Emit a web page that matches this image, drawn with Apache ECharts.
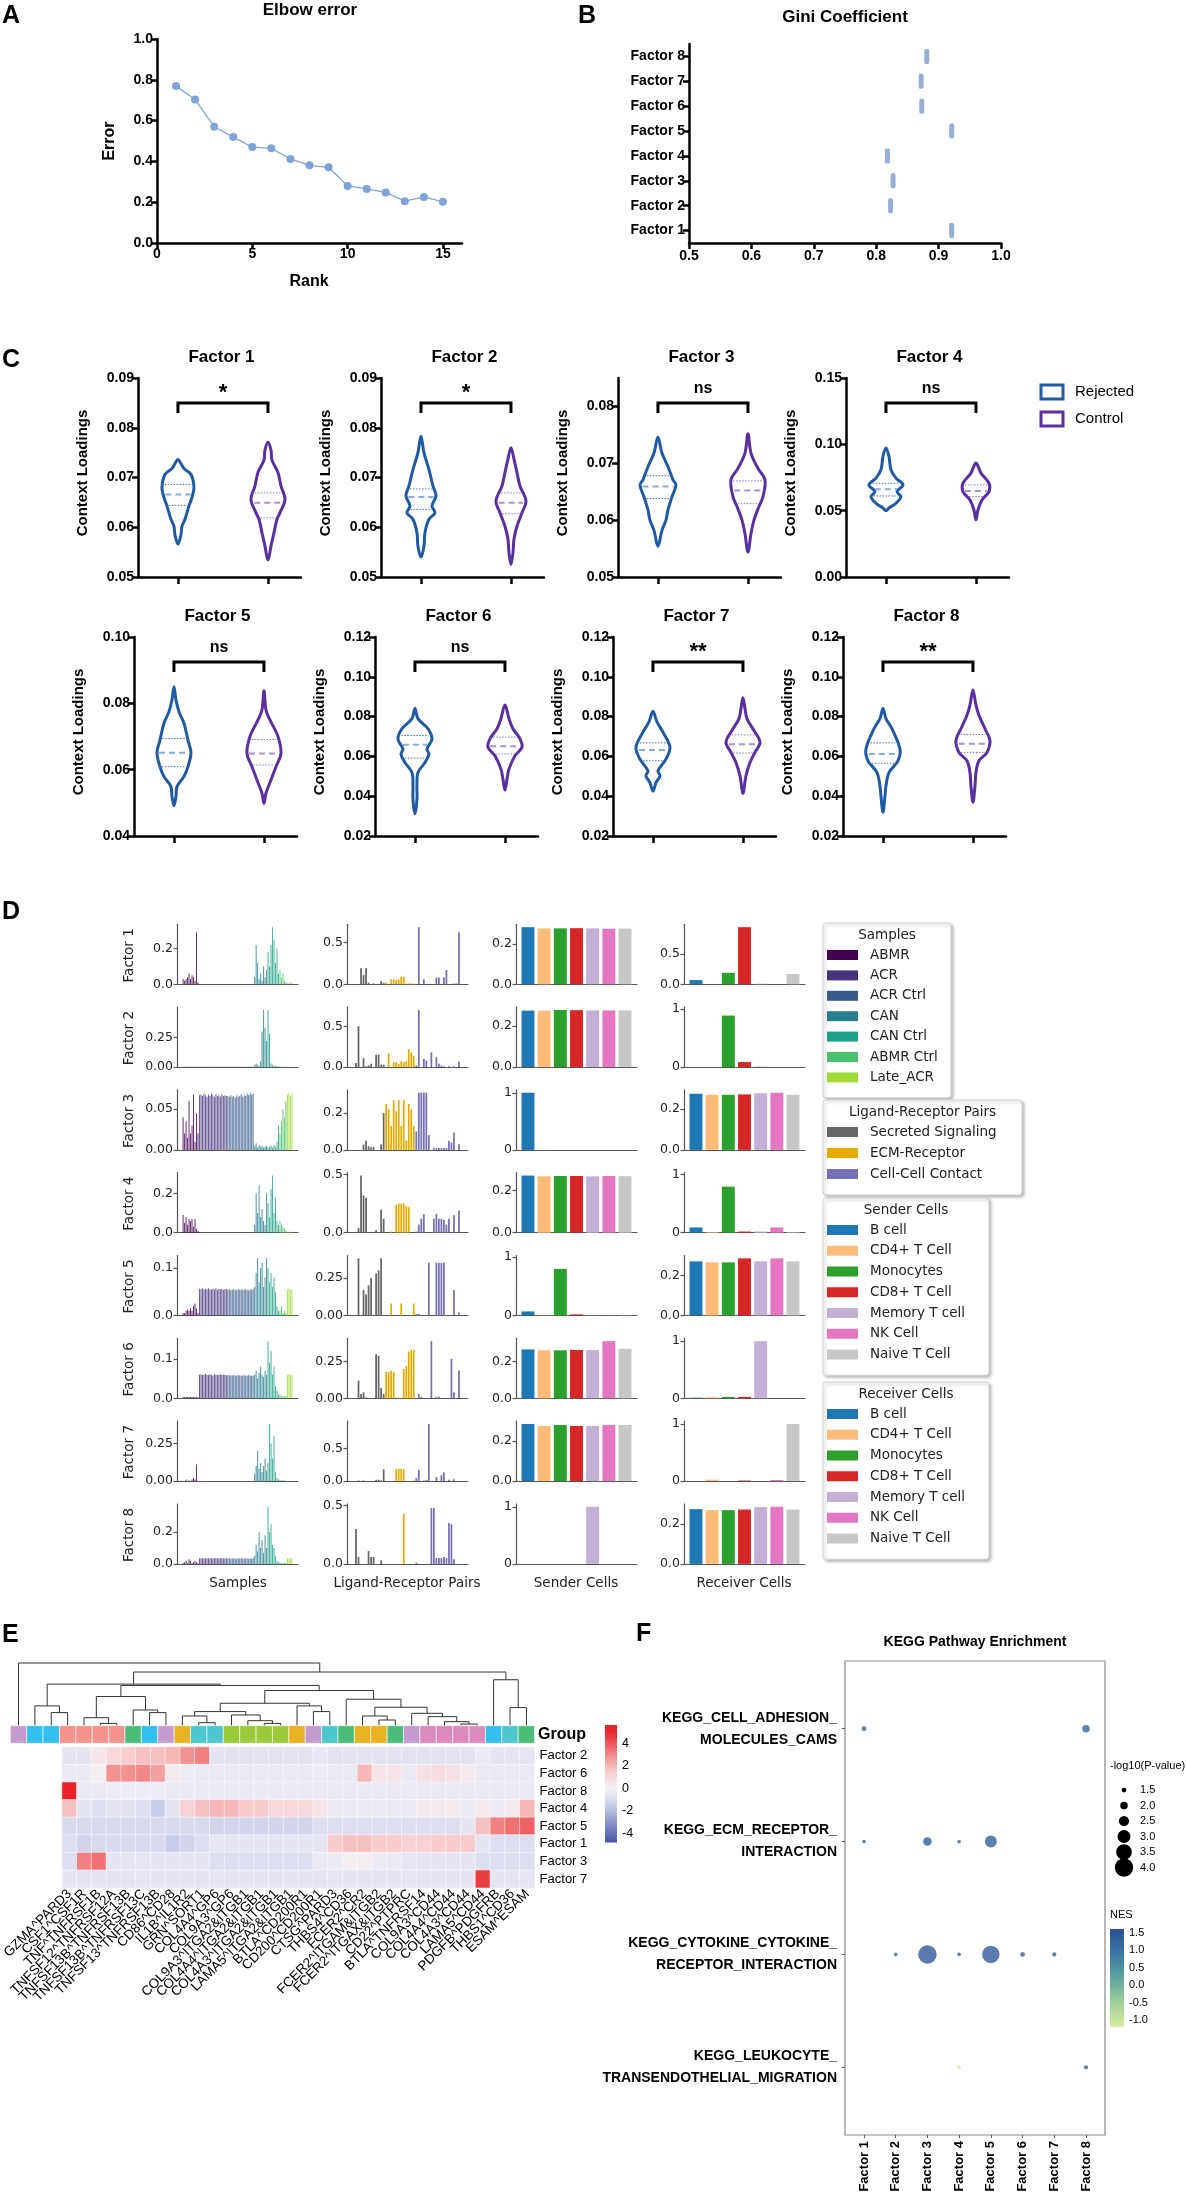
<!DOCTYPE html>
<html><head><meta charset="utf-8">
<script src="https://cdn.jsdelivr.net/npm/echarts@6.0.0/dist/echarts.min.js"></script>
<style>html,body{margin:0;padding:0;background:#fff}#c{width:1186px;height:2208px}</style>
</head><body><div id="c"></div>
<script>
// ================= DATA =================
const elbowRank = [1,2,3,4,5,6,7,8,9,10,11,12,13,14,15];
const elbowError = [0.769,0.703,0.570,0.519,0.470,0.464,0.412,0.381,0.371,0.280,0.265,0.248,0.205,0.226,0.202];
const factorNames = ['Factor 1','Factor 2','Factor 3','Factor 4','Factor 5','Factor 6','Factor 7','Factor 8'];
const giniValues = [0.921,0.823,0.827,0.818,0.921,0.873,0.872,0.881];
const groupNames = ['Rejected','Control'];
const sigLabels = ['*','*','ns','ns','ns','ns','**','**'];
const violinMin = [0.05,0.05,0.05,0,0.04,0.02,0.02,0.02];
const violinMax = [0.09,0.09,0.085,0.15,0.10,0.12,0.12,0.12];
const violinStep = [0.01,0.01,0.01,0.05,0.02,0.02,0.02,0.02];
const violinTop = [0.09,0.09,0.08,0.15,0.10,0.12,0.12,0.12];
const rejectedShape = [
 [[0.0736,0],[0.0728,3],[0.0718,6],[0.0706,13],[0.0680,16],[0.0660,14],[0.0643,11],[0.0616,7],[0.0602,4],[0.0585,3],[0.0566,0]],
 [[0.0783,0],[0.0750,3],[0.0716,8],[0.0683,12],[0.0663,15],[0.0643,11],[0.0629,14],[0.0616,8],[0.0589,4],[0.0562,3],[0.0540,0]],
 [[0.0746,0],[0.0718,4],[0.0694,10],[0.0671,15],[0.0662,18],[0.0641,14],[0.0618,10],[0.0600,8],[0.0582,4],[0.0554,0]],
 [[0.0972,0],[0.0909,3],[0.0808,5],[0.0745,10],[0.0694,17],[0.0644,11],[0.0606,15],[0.0556,10],[0.0520,3],[0.0500,0]],
 [[0.0850,0],[0.0810,2],[0.0775,5],[0.0740,10],[0.0689,14],[0.0651,17],[0.0609,14],[0.0579,10],[0.0549,3],[0.0519,2],[0.0491,0]],
 [[0.0841,0],[0.0790,3],[0.0739,13],[0.0688,17],[0.0637,12],[0.0612,14],[0.0569,10],[0.0519,3],[0.0451,2],[0.0383,2],[0.0312,0]],
 [[0.0827,0],[0.0773,4],[0.0722,10],[0.0646,17],[0.0586,13],[0.0527,5],[0.0502,7],[0.0468,3],[0.0425,0]],
 [[0.0841,0],[0.0790,3],[0.0739,9],[0.0637,17],[0.0578,15],[0.0519,6],[0.0451,3],[0.0400,2],[0.0319,0]]
];
const controlShape = [
 [[0.0771,0],[0.0755,3],[0.0735,4],[0.0710,10],[0.0683,13],[0.0656,17],[0.0629,12],[0.0616,9],[0.0589,6],[0.0562,3],[0.0534,0]],
 [[0.0760,0],[0.0737,3],[0.0710,6],[0.0683,9],[0.0653,15],[0.0629,11],[0.0602,6],[0.0576,3],[0.0549,2],[0.0525,0]],
 [[0.0752,0],[0.0718,3],[0.0691,10],[0.0671,17],[0.0641,15],[0.0624,11],[0.0600,6],[0.0576,3],[0.0544,0]],
 [[0.0859,0],[0.0783,5],[0.0707,13],[0.0644,13],[0.0581,6],[0.0505,2],[0.0430,0]],
 [[0.0838,0],[0.0780,2],[0.0750,6],[0.0700,14],[0.0649,17],[0.0609,12],[0.0569,7],[0.0529,2],[0.0498,0]],
 [[0.0858,0],[0.0790,4],[0.0739,8],[0.0688,15],[0.0646,17],[0.0603,10],[0.0536,4],[0.0485,2],[0.0431,0]],
 [[0.0895,0],[0.0841,2],[0.0790,4],[0.0730,11],[0.0671,17],[0.0620,12],[0.0569,7],[0.0502,3],[0.0414,0]],
 [[0.0934,0],[0.0858,3],[0.0807,6],[0.0739,12],[0.0680,17],[0.0620,14],[0.0578,6],[0.0519,3],[0.0451,2],[0.0369,0]]
];
const rejectedQuartiles = [[0.0644,0.0666,0.0686],[0.0636,0.0661,0.0677],[0.0638,0.0659,0.0678],[0.0611,0.0662,0.0707],[0.0609,0.0651,0.0694],[0.0592,0.0658,0.0705],[0.0578,0.0632,0.0668],[0.0566,0.0612,0.0668]];
const controlQuartiles = [[0.0619,0.0649,0.0669],[0.0627,0.0649,0.0669],[0.0629,0.0652,0.0669],[0.0606,0.0649,0.0694],[0.0614,0.0649,0.0691],[0.0612,0.0651,0.0697],[0.0617,0.0661,0.0708],[0.0620,0.0663,0.0710]];

const sampleGroups = ['ABMR','ACR','ACR Ctrl','CAN','CAN Ctrl','ABMR Ctrl','Late_ACR'];
const sampleGroupSizes = [11,19,18,9,8,5,4];
const sampleGroupColors = ['#440154','#46327e','#365c8d','#277f8e','#1fa187','#4ac16d','#a0da39'];
const sampleLoadings = [
 [0.03,0.02,0.03,0.04,0.06,0.03,0.05,0.04,0.02,0.29,0.01, 0,0,0,0,0,0,0,0,0,0,0,0,0,0,0,0,0,0,0, 0,0,0,0,0,0,0,0,0,0,0,0,0,0,0,0,0,0, 0.04,0.22,0.12,0.03,0.06,0.02,0.10,0.04,0.08, 0.18,0.10,0.22,0.32,0.25,0.12,0.20,0.06, 0.08,0.04,0.06,0.02,0.01, 0.01,0.01,0.01,0.01],
 [0.003,0.002,0.003,0.002,0.003,0.002,0.003,0.002,0.003,0.002,0.003, 0.002,0.002,0.002,0.002,0.002,0.002,0.002,0.002,0.002,0.002,0.002,0.002,0.002,0.002,0.002,0.002,0.002,0.002,0.002, 0.002,0.002,0.002,0.002,0.002,0.002,0.002,0.002,0.002,0.002,0.002,0.002,0.002,0.002,0.002,0.002,0.002,0.002, 0.02,0.03,0.02,0.01,0.05,0.30,0.48,0.33,0.22, 0.48,0.28,0.03,0.02,0.01,0.01,0.01,0.005, 0.003,0.002,0.002,0.002,0.002, 0.002,0.002,0.002,0.002],
 [0.040,0.020,0.035,0.015,0.060,0.020,0.030,0.068,0.010,0.045,0.020, 0.067,0.068,0.066,0.069,0.067,0.065,0.068,0.066,0.069,0.067,0.065,0.068,0.066,0.067,0.065,0.068,0.066,0.067,0.066, 0.066,0.065,0.067,0.065,0.066,0.064,0.067,0.065,0.066,0.068,0.065,0.067,0.066,0.069,0.067,0.070,0.068,0.069, 0.005,0.008,0.003,0.006,0.004,0.005,0.003,0.004,0.005, 0.003,0.004,0.005,0.003,0.006,0.004,0.010,0.030, 0.020,0.035,0.050,0.040,0.060, 0.068,0.070,0.066,0.069],
 [0.09,0.05,0.08,0.04,0.07,0.06,0.07,0.03,0.07,0.02,0.01, 0,0,0,0,0,0,0,0,0,0,0,0,0,0,0,0,0,0,0, 0,0,0,0,0,0,0,0,0,0,0,0,0,0,0,0,0,0, 0.04,0.20,0.10,0.24,0.08,0.12,0.06,0.04,0.20, 0.15,0.08,0.22,0.29,0.10,0.18,0.06,0.04, 0.06,0.04,0.03,0.02,0.01, 0.005,0.005,0.005,0.005],
 [0.005,0.005,0.010,0.012,0.010,0.015,0.010,0.020,0.025,0.015,0.005, 0.056,0.055,0.057,0.054,0.056,0.055,0.057,0.055,0.054,0.056,0.055,0.057,0.054,0.056,0.055,0.056,0.054,0.055,0.056, 0.054,0.055,0.053,0.054,0.055,0.054,0.053,0.055,0.054,0.055,0.053,0.054,0.055,0.054,0.053,0.055,0.054,0.055, 0.06,0.09,0.12,0.07,0.10,0.11,0.06,0.08,0.12, 0.10,0.07,0.09,0.06,0.08,0.05,0.02,0.01, 0.01,0.02,0.005,0.01,0.005, 0.055,0.056,0.054,0.055],
 [0.003,0.003,0.003,0.003,0.003,0.003,0.003,0.003,0.003,0.003,0.003, 0.060,0.061,0.059,0.060,0.062,0.060,0.059,0.061,0.060,0.058,0.061,0.060,0.059,0.060,0.061,0.059,0.060,0.060,0.059, 0.058,0.059,0.057,0.058,0.059,0.058,0.057,0.059,0.058,0.057,0.058,0.059,0.057,0.058,0.059,0.058,0.057,0.058, 0.06,0.07,0.05,0.065,0.08,0.06,0.055,0.07,0.06, 0.145,0.09,0.12,0.06,0.08,0.03,0.02,0.01, 0.01,0.005,0.005,0.005,0.005, 0.060,0.061,0.059,0.060],
 [0,0,0.01,0,0.005,0,0.01,0.02,0.01,0.11,0, 0,0,0,0,0,0,0,0,0,0,0,0,0,0,0,0,0,0,0, 0,0,0,0,0,0,0,0,0,0,0,0,0,0,0,0,0,0, 0.05,0.10,0.20,0.08,0.12,0.06,0.10,0.15,0.07, 0.12,0.38,0.25,0.15,0.30,0.06,0.02,0.01, 0.01,0.005,0.005,0.005,0, 0,0,0,0],
 [0.005,0.010,0.020,0.005,0.030,0.020,0.005,0.010,0.020,0.010,0.005, 0.035,0.036,0.034,0.035,0.036,0.035,0.034,0.036,0.035,0.034,0.035,0.036,0.035,0.034,0.035,0.036,0.035,0.034,0.035, 0.034,0.035,0.033,0.034,0.035,0.034,0.033,0.035,0.034,0.035,0.033,0.034,0.035,0.034,0.033,0.035,0.034,0.035, 0.05,0.12,0.08,0.20,0.10,0.15,0.07,0.18,0.10, 0.36,0.20,0.25,0.12,0.10,0.05,0.02,0.01, 0.01,0.005,0.005,0.005,0.005, 0.035,0.036,0.034,0.035]
];
const sampleTicks = [['0.0','0.2'],['0.00','0.25'],['0.00','0.05'],['0.0','0.2'],['0.0','0.1'],['0.0','0.1'],['0.00','0.25'],['0.0','0.2']];
const lrCategories = ['Secreted Signaling','ECM-Receptor','Cell-Cell Contact'];
const lrCategorySizes = [13,12,19];
const lrCategoryColors = ['#666666','#e6ab02','#7570b3'];
const lrLoadings = [
 [0,0,0,0.19,0.11,0.19,0.02,0,0.01,0,0,0.04,0.02, 0.02,0,0.06,0.06,0.05,0.06,0.09,0.09,0.01,0.01,0.01,0.01, 0,0.68,0,0.06,0,0,0,0,0.08,0.08,0,0.08,0.17,0,0,0.01,0.01,0.62,0],
 [0,0.05,0.5,0,0.11,0.01,0.02,0.04,0,0.15,0.15,0.03,0.03, 0,0.17,0,0.06,0.06,0.04,0.07,0.06,0.07,0.22,0.18,0.14, 0.02,0.7,0,0.1,0.08,0,0.18,0,0.12,0.04,0.02,0.01,0,0.01,0,0.01,0,0.07,0],
 [0,0,0,0,0.03,0.05,0.02,0.015,0.015,0,0,0.03,0.2, 0.25,0.22,0.13,0.27,0.21,0.27,0.13,0.27,0.05,0.25,0.22,0.13, 0.1,0.31,0.31,0.31,0.31,0.08,0,0.01,0.01,0.01,0.01,0.01,0.01,0.05,0.04,0.095,0,0.03,0],
 [0,0,0.04,0.49,0.32,0.3,0,0,0,0.02,0,0.2,0.12, 0,0,0.01,0,0.24,0.25,0.25,0.25,0.23,0.22,0,0, 0.01,0.07,0.12,0.16,0,0,0,0.12,0.16,0.12,0.12,0.11,0.07,0.12,0,0.15,0,0.19,0],
 [0,0,0.38,0,0.17,0.14,0.2,0.25,0,0.28,0.3,0.38,0, 0,0,0.08,0,0,0,0.08,0,0,0,0,0.08, 0.01,0.01,0,0,0,0.35,0,0,0.35,0.35,0.35,0.35,0,0,0,0.17,0,0.02,0],
 [0,0,0.12,0.03,0.04,0.005,0,0,0,0.3,0.29,0.07,0.03, 0.18,0.18,0.19,0.18,0,0.005,0,0.2,0.22,0.32,0.33,0.33, 0,0.03,0.01,0,0,0,0.39,0,0.01,0.01,0,0,0,0,0.27,0.04,0,0.19,0],
 [0,0,0.01,0,0.01,0,0,0,0,0.02,0.02,0.01,0.18, 0,0,0,0,0.18,0.19,0.19,0.18,0,0,0,0.01, 0.05,0.17,0,0.01,0.02,0.87,0,0,0.06,0,0.09,0.13,0,0.02,0,0.03,0,0,0],
 [0,0.3,0.06,0,0,0,0.11,0.06,0.06,0,0,0.03,0, 0,0,0,0,0,0,0,0.43,0,0,0,0, 0.01,0,0,0,0,0,0.48,0.48,0.05,0.05,0.05,0.06,0.05,0.35,0.34,0.04,0,0,0]
];
const lrTicks = [['0.0','0.5'],['0.0','0.5'],['0.0','0.2'],['0.0','0.5'],['0.00','0.25'],['0.00','0.25'],['0.0','0.5'],['0.0','0.5']];
const cellTypes = ['B cell','CD4+ T Cell','Monocytes','CD8+ T Cell','Memory T cell','NK Cell','Naive T Cell'];
const cellColors = ['#1f77b4','#ffbb78','#2ca02c','#d62728','#c5b0d5','#e377c2','#c7c7c7'];
const senderLoadings = [
 [0.285,0.278,0.279,0.280,0.279,0.277,0.278],
 [0.275,0.275,0.278,0.277,0.276,0.276,0.276],
 [1,0,0,0,0,0,0],
 [0.272,0.268,0.270,0.270,0.268,0.270,0.269],
 [0.07,0.005,0.80,0.02,0.005,0.005,0.005],
 [0.267,0.262,0.262,0.264,0.263,0.312,0.270],
 [0.285,0.275,0.280,0.275,0.275,0.280,0.280],
 [0,0,0,0,1,0,0]
];
const senderTicks = [['0.0','0.2'],['0.0','0.2'],['0','1'],['0.0','0.2'],['0','1'],['0.0','0.2'],['0.0','0.2'],['0','1']];
const receiverLoadings = [
 [0.07,0,0.19,0.944,0.01,0,0.17],
 [0,0,0.885,0.086,0.01,0,0],
 [0.275,0.270,0.270,0.272,0.278,0.280,0.270],
 [0.09,0.01,0.79,0.02,0.02,0.09,0.01],
 [0.270,0.265,0.265,0.285,0.270,0.285,0.270],
 [0.01,0.02,0.025,0.025,1,0,0],
 [0,0.025,0,0.01,0,0.02,1],
 [0.275,0.270,0.270,0.273,0.285,0.287,0.273]
];
const receiverTicks = [['0.0','0.5'],['0','1'],['0.0','0.2'],['0','1'],['0.0','0.2'],['0','1'],['0','1'],['0.0','0.2']];

const hmColumns = ['GZMA^PARD3','CSF1^CSF1R','TNF^TNFRSF1B','TNFSF12^TNFRSF12A','TNFSF13B^TNFRSF13B','TNFSF13B^TNFRSF13C','TNFSF13^TNFRSF13B','CD86^CD28','IL1B^IL1R2','GRN^SORT1','COL4A4^GP6','COL9A3^GP6','COL9A3^ITGA2&ITGB1','COL4A4^ITGA2&ITGB1','COL4A3^ITGA2&ITGB1','LAMA5^ITGA2&ITGB1','BTLA^CD200R1','CD200^CD200R1','CTSG^PARD3','THBS4^CD36','FCER2^CR2','FCER2^ITGAM&ITGB2','FCER2^ITGAX&ITGB2','CD22^PTPRC','BTLA^TNFRSF14','COL9A3^CD44','COL4A4^CD44','COL4A3^CD44','LAMA5^CD44','PDGFB^PDGFRB','THBS1^CD36','ESAM^ESAM'];
const hmGroupIds = [0,1,1,2,2,2,2,3,1,0,4,5,5,6,6,6,6,4,0,5,3,4,4,3,0,7,7,7,7,1,5,3];
const hmGroupColors = ['#c49bd0','#35bff0','#f4928c','#4cbc78','#e9b224','#4fc6cd','#9ac93c','#dc89be'];
const hmRows = ['Factor 2','Factor 6','Factor 8','Factor 4','Factor 5','Factor 1','Factor 3','Factor 7'];
const hmFactor2 = [-0.5,-0.5,0.5,1.0,1.4,1.8,1.8,2.0,2.8,3.2,-0.6,-0.6,-0.6,-0.6,-0.6,-0.6,-0.6,-0.4,-0.6,-0.6,-0.6,-0.6,-0.6,-0.6,-0.6,-0.6,-0.6,-0.6,-0.3,-0.5,-0.5,-0.5];
const hmFactor6 = [-0.3,-0.3,0.2,2.8,2.8,3.0,2.5,0.3,-0.2,-0.3,-0.3,-0.3,-0.3,-0.3,-0.3,-0.3,-0.3,-0.2,-0.3,-0.3,2.0,0.5,0.5,-0.3,0.6,0.8,0.6,0.3,-0.3,-0.3,-0.3,-0.3];
const hmFactor8 = [5.0,-0.3,-0.3,-0.2,-0.2,-0.2,-0.2,-0.3,-0.3,-0.3,-0.3,-0.3,-0.3,-0.3,-0.3,-0.3,-0.3,-0.3,-0.3,-0.3,-0.3,-0.3,-0.3,-0.3,-0.3,-0.3,-0.3,-0.3,-0.3,-0.3,-0.3,-0.3];
const hmFactor4 = [1.8,-0.6,-0.8,-0.6,-0.6,-0.8,-1.5,-0.6,1.2,1.8,2.0,2.0,1.5,1.5,1.0,1.0,1.0,0.5,-0.3,-0.3,-0.3,-0.3,-0.3,-0.3,0.3,0.3,0.3,-0.3,0.3,-0.3,0.3,2.0];
const hmFactor5 = [-1.0,-1.0,-1.0,-1.0,-1.0,-1.0,-1.0,-1.0,-1.0,-1.0,-1.2,-1.2,-1.2,-1.2,-1.2,-1.2,-1.2,-0.8,-0.8,-0.8,-0.8,-0.8,-0.8,-0.8,-0.8,-0.8,-0.8,-0.5,1.8,3.2,3.5,3.8];
const hmFactor1 = [-0.8,-1.2,-1.0,-1.0,-1.0,-1.0,-1.0,-1.5,-1.2,-0.8,-0.5,-0.5,-0.5,-0.5,-0.5,-0.5,-0.5,-0.5,1.5,1.8,1.8,1.5,1.5,1.2,1.2,1.5,1.5,1.5,-0.5,-0.8,-0.8,-0.8];
const hmFactor3 = [-0.8,3.2,3.5,-0.5,-0.5,-0.5,-0.5,-0.5,-0.5,-0.5,-0.8,-0.8,-0.8,-0.8,-0.8,-0.8,-0.8,-0.3,-0.3,0.2,0.2,-0.3,-0.3,-0.5,-0.5,-0.5,-0.5,-0.5,-0.8,-0.8,-0.8,-0.8];
const hmFactor7 = [-0.5,-0.5,-0.5,-0.5,-0.5,-0.5,-0.5,-0.5,-0.5,-0.5,-0.5,-0.5,-0.5,-0.5,-0.5,-0.5,-0.5,-0.5,-0.5,-0.5,-0.5,-0.5,-0.5,-0.5,-0.5,-0.5,-0.5,-0.5,4.5,-0.5,-0.5,-0.5];
const dendroMerges = [
 [2,3,2.09],[1,32,3.16],[5,6,0.37],[4,34,1.28],[8,9,2.09],[7,36,2.51],[35,37,4.65],
 [11,12,0.48],[10,39,1.55],[15,16,0.37],[14,41,0.80],[13,42,1.71],[40,43,2.25],
 [18,19,2.25],[17,45,3.16],[44,46,3.58],
 [22,23,0.91],[21,48,1.55],[27,28,0.27],[26,50,0.64],[25,51,1.44],[24,52,1.98],[49,53,2.94],[20,54,4.22],
 [47,55,5.61],[38,56,6.42],[33,57,6.63],[30,31,2.89],[29,59,7.33],[58,60,8.56],[0,61,10]
];
const hmLegendTicks = [4,2,0,-2,-4];
const hmLegendRange = [5.6,-4.8];
const keggPathways = ['KEGG_CELL_ADHESION_\nMOLECULES_CAMS','KEGG_ECM_RECEPTOR_\nINTERACTION','KEGG_CYTOKINE_CYTOKINE_\nRECEPTOR_INTERACTION','KEGG_LEUKOCYTE_\nTRANSENDOTHELIAL_MIGRATION'];
const keggPoints = [
 [1,1,1.5,1.3],[8,1,2.0,1.2],
 [1,2,1.3,1.3],[3,2,2.2,1.3],[4,2,1.3,1.2],[5,2,2.8,1.3],
 [2,3,1.3,1.2],[3,3,4.0,1.4],[4,3,1.3,1.3],[5,3,3.8,1.4],[6,3,1.5,1.2],[7,3,1.4,1.2],
 [4,4,1.3,-1.2],[8,4,1.4,1.2]
];
const keggSizeLegend = [1.5,2.0,2.5,3.0,3.5,4.0];
const keggNesTicks = [1.5,1.0,0.5,0.0,-0.5,-1.0];

// ================= BUILD =================
const GP = '"Liberation Sans", Arial, Helvetica, sans-serif';
const MPL = '"DejaVu Sans", "Liberation Sans", sans-serif';
const NARROW = '"Liberation Sans Narrow", "Liberation Sans", Arial, sans-serif';
const grids=[], xAxes=[], yAxes=[], series=[], graphics=[], visualMaps=[];
function addGrid(g){ grids.push(Object.assign({containLabel:false, show:false}, g)); return grids.length-1; }
function addX(a){ xAxes.push(a); return xAxes.length-1; }
function addY(a){ yAxes.push(a); return yAxes.length-1; }
function T(text,x,y,o){ o=o||{}; const al=o.align||'center', va=o.va||'middle';
 graphics.push({type:'text', x:x, y:y, rotation:o.rot||0, silent:true, z:50,
  style:{text:text, fill:o.color||'#000', font:(o.weight||'normal')+' '+(o.size||14)+'px '+(o.family||GP), align:al, textAlign:al, verticalAlign:va, textVerticalAlign:va, lineHeight:o.lh}}); }
function R(x,y,w,h,style,z){ graphics.push({type:'rect', silent:true, z:z||40, shape:{x:x,y:y,width:w,height:h,r:style.r||0}, style:style}); }
const BLK = {color:'#000', width:2.5};
function gpAxisCommon(){ return {axisLine:{show:true,onZero:false,lineStyle:BLK}, splitLine:{show:false}}; }

// ---- Panel A ----
T('A', 2, 16, {weight:'bold', size:25, align:'left'});
T('Elbow error', 310, 10, {weight:'bold', size:17});
{
 const g = addGrid({left:157, top:39, width:305, height:204});
 const xi = addX(Object.assign(gpAxisCommon(), {gridIndex:g, type:'value', min:0, max:16,
   axisTick:{show:true, length:6, lineStyle:BLK, customValues:[0,5,10,15]},
   axisLabel:{customValues:[0,5,10,15], color:'#000', fontFamily:GP, fontWeight:'bold', fontSize:14, margin:4}}));
 const yi = addY(Object.assign(gpAxisCommon(), {gridIndex:g, type:'value', min:0, max:1, interval:0.2,
   axisTick:{show:true, length:6, lineStyle:BLK},
   axisLabel:{color:'#000', fontFamily:GP, fontWeight:'bold', fontSize:14, margin:4, formatter:v=>v.toFixed(1)}}));
 series.push({type:'line', xAxisIndex:xi, yAxisIndex:yi, data:elbowRank.map((r,i)=>[r,elbowError[i]]),
   symbol:'circle', symbolSize:8, itemStyle:{color:'#7ea3d9'}, lineStyle:{color:'#7ea3d9', width:1.3}, silent:true});
 T('Error', 110, 141, {weight:'bold', size:16, rot:Math.PI/2});
 T('Rank', 309, 282, {weight:'bold', size:16});
}
// ---- Panel B ----
T('B', 578, 16, {weight:'bold', size:25, align:'left'});
T('Gini Coefficient', 845, 17, {weight:'bold', size:17});
{
 const g = addGrid({left:689, top:44, width:312, height:199});
 const xi = addX(Object.assign(gpAxisCommon(), {gridIndex:g, type:'value', min:0.5, max:1.0, interval:0.1,
   axisTick:{show:true, length:6, lineStyle:BLK},
   axisLabel:{color:'#000', fontFamily:GP, fontWeight:'bold', fontSize:14, margin:6, formatter:v=>v.toFixed(1)}}));
 const yi = addY(Object.assign(gpAxisCommon(), {gridIndex:g, type:'category', data:factorNames,
   axisTick:{show:true, length:6, lineStyle:BLK, alignWithLabel:true},
   axisLabel:{color:'#000', fontFamily:GP, fontWeight:'bold', fontSize:14, margin:4}}));
 series.push({type:'scatter', xAxisIndex:xi, yAxisIndex:yi, data:giniValues.map((v,i)=>[v,factorNames[i]]),
   symbol:'roundRect', symbolSize:[5,15], itemStyle:{color:'#7b9bcd'}, silent:true});
}
// ---- Panel C ----
T('C', 2, 360, {weight:'bold', size:25, align:'left'});
const REJ='#1f5aa3', CTL='#5a2fa0';
const REJ_MED='#86aae2', CTL_MED='#ab8fda', REJ_Q='#3d6fc4', CTL_Q='#8b72cc';
function widthAt(shape, v){
 for(let i=0;i<shape.length-1;i++){ const a=shape[i], b=shape[i+1];
  if(v<=a[0] && v>=b[0]){ const t=(a[0]-v)/(a[0]-b[0]); return a[1]+(b[1]-a[1])*t; } }
 return 0;
}
const cLefts = [[138,381,618,846],[134,375,613,843]];
const cTops = [378,637];
for(let f=0; f<8; f++){
 const r = Math.floor(f/4), c = f%4;
 const left = cLefts[r][c], top = cTops[r], W = 163, Hh = 199;
 const g = addGrid({left:left, top:top, width:W, height:Hh});
 const xi = addX(Object.assign(gpAxisCommon(), {gridIndex:g, type:'value', min:-0.444, max:1.367,
   axisTick:{show:true, length:7, lineStyle:BLK, customValues:[0,1]}, axisLabel:{show:false}}));
 const ticks=[]; for(let v=violinMin[f]; v<=violinTop[f]+1e-9; v+=violinStep[f]) ticks.push(+v.toFixed(3));
 const yi = addY(Object.assign(gpAxisCommon(), {gridIndex:g, type:'value', min:violinMin[f], max:violinMax[f],
   axisTick:{show:true, length:6, lineStyle:BLK, customValues:ticks},
   axisLabel:{customValues:ticks, color:'#000', fontFamily:GP, fontWeight:'bold', fontSize:14, margin:4, formatter:v=>v.toFixed(2)}}));
 [0,1].forEach(gi=>{
  const shape = gi===0 ? rejectedShape[f] : controlShape[f];
  const q = gi===0 ? rejectedQuartiles[f] : controlQuartiles[f];
  const stroke = gi===0?REJ:CTL, med = gi===0?REJ_MED:CTL_MED, qc = gi===0?REJ_Q:CTL_Q;
  series.push({type:'custom', name:groupNames[gi], xAxisIndex:xi, yAxisIndex:yi, clip:false, silent:true,
   data:[[gi, q[1]]],
   renderItem:function(params, api){
    const cx = api.coord([gi, violinMin[f]])[0];
    const pts=[];
    shape.forEach(p=>{ pts.push([cx - p[1], api.coord([gi,p[0]])[1]]); });
    for(let i=shape.length-2;i>=1;i--){ const p=shape[i]; pts.push([cx + p[1], api.coord([gi,p[0]])[1]]); }
    const kids=[{type:'polygon', shape:{points:pts, smooth:0.35}, style:{fill:'#fff', stroke:stroke, lineWidth:3}}];
    q.forEach((v,k)=>{ const w=widthAt(shape,v)-2; const y=api.coord([gi,v])[1];
      kids.push({type:'line', shape:{x1:cx-w, y1:y, x2:cx+w, y2:y}, style:{stroke: k===1?med:qc, lineWidth: k===1?2:1, lineDash: k===1?[6,4]:[1.5,1.5]}}); });
    return {type:'group', children:kids};
   }});
 });
 series.push({type:'custom', xAxisIndex:xi, yAxisIndex:yi, clip:false, silent:true, data:[[0,1]],
  renderItem:function(params, api){
   const cs = params.coordSys; const x0 = api.coord([0,violinMin[f]])[0], x1 = api.coord([1,violinMin[f]])[0];
   const yb = cs.y + 25;
   return {type:'group', children:[
    {type:'polyline', shape:{points:[[x0,yb+10],[x0,yb],[x1,yb],[x1,yb+10]]}, style:{stroke:'#000', lineWidth:3, fill:null}},
    {type:'text', x:(x0+x1)/2, y: sigLabels[f]==='ns'? yb-14 : yb-10, style:{text:sigLabels[f], fill:'#000', font:'bold '+(sigLabels[f]==='ns'?16:22)+'px '+GP, align:'center', verticalAlign:'middle'}}
   ]};
  }});
 T(factorNames[f], left + W/2 + 2, top - 21, {weight:'bold', size:17});
 T('Context Loadings', left - 55, top + 95, {weight:'bold', size:15, rot:Math.PI/2});
}
R(1041, 385, 22, 14, {fill:'#fff', stroke:REJ, lineWidth:3});
R(1041, 412, 22, 14, {fill:'#fff', stroke:CTL, lineWidth:3});
T('Rejected', 1075, 392, {size:15, align:'left'});
T('Control', 1075, 419, {size:15, align:'left'});

// ---- Panel D ----
T('D', 2, 912, {weight:'bold', size:25, align:'left'});
const dLefts = [177,347,516,684], dW = 121, dH = 60, dBase0 = 984.3, dStep = 82.8;
const sampleColorOf = []; sampleGroupSizes.forEach((n,gi)=>{ for(let k=0;k<n;k++) sampleColorOf.push(gi); });
const lrColorOf = []; lrCategorySizes.forEach((n,gi)=>{ for(let k=0;k<n;k++) lrColorOf.push(gi); });
const mplAxis = {color:'#555', width:1.2};
function dPanel(left, top, vals, tickLabels, colorFn, opacity, widthFrac){
 const n = vals.length;
 const g = addGrid({left:left, top:top, width:dW, height:dH});
 const margin = 0.05*(n-1+0.8);
 const xmin = -0.4-margin, xmax = n-1+0.4+margin;
 const xi = addX({gridIndex:g, type:'value', min:xmin, max:xmax, axisLine:{show:true,onZero:false,lineStyle:mplAxis}, axisTick:{show:false}, axisLabel:{show:false}, splitLine:{show:false}});
 const tv = tickLabels.map(parseFloat);
 const mx = Math.max.apply(null, vals);
 const ymax = Math.max(mx*1.05, tv[tv.length-1]*1.03);
 const yi = addY({gridIndex:g, type:'value', min:0, max:ymax, axisLine:{show:true,onZero:false,lineStyle:mplAxis},
   axisTick:{show:true, length:3.5, lineStyle:mplAxis, customValues:tv},
   axisLabel:{customValues:tv, color:'#222', fontFamily:MPL, fontSize:12.5, margin:4, formatter:v=>tickLabels[tv.indexOf(v)] }, splitLine:{show:false}});
 const bw = dW/(xmax-xmin)*(widthFrac||0.8);
 series.push({type:'bar', xAxisIndex:xi, yAxisIndex:yi, silent:true, barWidth:bw, barGap:'-100%',
   data: vals.map((v,i)=>[i,v]), itemStyle:{color:p=>colorFn(p.dataIndex), opacity:opacity}});
}
for(let f=0; f<8; f++){
 const top = dBase0 + f*dStep - dH;
 dPanel(dLefts[0], top, sampleLoadings[f], sampleTicks[f], i=>sampleGroupColors[sampleColorOf[i]], 0.8, 0.7);
 dPanel(dLefts[1], top, lrLoadings[f], lrTicks[f], i=>lrCategoryColors[lrColorOf[i]], 1, 0.7);
 dPanel(dLefts[2], top, senderLoadings[f], senderTicks[f], i=>cellColors[i], 1);
 dPanel(dLefts[3], top, receiverLoadings[f], receiverTicks[f], i=>cellColors[i], 1);
 T(factorNames[f], 129, top + 31, {size:13.5, family:MPL, rot:Math.PI/2, color:'#222'});
}
T('Samples', 238, 1583, {size:13.5, family:MPL, color:'#222'});
T('Ligand-Receptor Pairs', 407, 1583, {size:13.5, family:MPL, color:'#222'});
T('Sender Cells', 576, 1583, {size:13.5, family:MPL, color:'#222'});
T('Receiver Cells', 744, 1583, {size:13.5, family:MPL, color:'#222'});
function legendBox(x,y,w,title,names,colors,step){
 const h = 32 + names.length*step;
 R(x,y,w,h,{fill:'#fff', stroke:'#cfcfcf', lineWidth:1, r:3, shadowBlur:3, shadowOffsetX:2, shadowOffsetY:2, shadowColor:'rgba(0,0,0,0.25)'});
 T(title, x + w/2, y + 12, {size:13.5, family:MPL, color:'#222'});
 names.forEach((nm,i)=>{ const yy = y + 32 + i*step;
  R(x+4, yy-5, 31, 10, {fill:colors[i]}, 41);
  T(nm, x+47, yy, {size:13.5, family:MPL, color:'#222', align:'left'}); });
}
legendBox(823, 923, 128, 'Samples', sampleGroups, sampleGroupColors, 20.4);
legendBox(823, 1100, 199, 'Ligand-Receptor Pairs', lrCategories, lrCategoryColors, 21);
legendBox(823, 1198, 166, 'Sender Cells', cellTypes, cellColors, 20.75);
legendBox(823, 1382, 166, 'Receiver Cells', cellTypes, cellColors, 20.75);

// ---- Panel E ----
T('E', 2, 1635, {weight:'bold', size:25, align:'left'});
const hmLeft = 10.3, hmW = 524.3, hmRowH = 17.6, hmTop = 1747;
const hmPalette = ['#3d4fa2','#7e88c4','#c4c8e6','#f4f2f8','#f7c6c6','#f07a7a','#e8232a'];
{
 const g = addGrid({left:hmLeft, top:1663, width:hmW, height:62.7});
 const xi = addX({gridIndex:g, type:'value', min:0, max:32, show:false});
 const yi = addY({gridIndex:g, type:'value', min:0, max:10, show:false});
 const pos = []; for(let i=0;i<32;i++) pos.push([i+0.5, 0]);
 dendroMerges.forEach(m=>{ pos.push([(pos[m[0]][0]+pos[m[1]][0])/2, m[2]]); });
 series.push({type:'custom', xAxisIndex:xi, yAxisIndex:yi, silent:true, clip:false, data:dendroMerges.map((m,i)=>[i]),
  renderItem:function(params, api){
   const m = dendroMerges[params.dataIndex];
   const a = pos[m[0]], b = pos[m[1]];
   const pa = api.coord(a), pb = api.coord(b), ph = api.coord([0,m[2]])[1];
   return {type:'polyline', shape:{points:[pa,[pa[0],ph],[pb[0],ph],pb]}, style:{stroke:'#333', lineWidth:1, fill:null}};
  }});
}
{
 const g = addGrid({left:hmLeft, top:1725.7, width:hmW, height:17.6});
 const xi = addX({gridIndex:g, type:'category', data:hmColumns, show:false});
 const yi = addY({gridIndex:g, type:'category', data:['Group'], show:false});
 series.push({type:'custom', xAxisIndex:xi, yAxisIndex:yi, silent:true, data:hmGroupIds.map((gid,i)=>[i,0,gid]),
  renderItem:function(params, api){
   const c = api.coord([api.value(0), 0]); const s = api.size([1,1]);
   return {type:'rect', shape:{x:c[0]-s[0]/2, y:c[1]-s[1]/2, width:s[0], height:s[1]}, style:{fill:hmGroupColors[api.value(2)], stroke:'#fff', lineWidth:0.6}};
  }});
 T('Group', 538, 1735, {weight:'bold', size:16, align:'left'});
}
{
 const g = addGrid({left:hmLeft, top:hmTop, width:hmW, height:hmRowH*8});
 const xi = addX({gridIndex:g, type:'category', data:hmColumns, axisLine:{show:false}, axisTick:{show:false},
   axisLabel:{rotate:45, interval:0, color:'#000', fontFamily:GP, fontSize:13.5, margin:4}});
 const yi = addY({gridIndex:g, type:'category', data:hmRows, inverse:true, position:'right', axisLine:{show:false}, axisTick:{show:false},
   axisLabel:{color:'#000', fontFamily:GP, fontSize:13, margin:5}});
 const rowsData = [hmFactor2,hmFactor6,hmFactor8,hmFactor4,hmFactor5,hmFactor1,hmFactor3,hmFactor7];
 const d=[]; rowsData.forEach((row,r)=>row.forEach((v,c)=>d.push([c,r,v])));
 series.push({type:'heatmap', xAxisIndex:xi, yAxisIndex:yi, data:d, silent:true, itemStyle:{borderColor:'#fff', borderWidth:0.5}});
 visualMaps.push({show:false, type:'continuous', seriesIndex:series.length-1, min:-5, max:5, dimension:2, inRange:{color:hmPalette}});
 // colour key: gradient built from the same palette over the key's value range
 const cbX = 605, cbY = 1725, pxPerUnit = 11.3;
 const cbH = (hmLegendRange[0]-hmLegendRange[1])*pxPerUnit;
 const stops = [];
 for(let k=0;k<=20;k++){ const v = hmLegendRange[0] - k/20*(hmLegendRange[0]-hmLegendRange[1]);
   const t = Math.max(0, Math.min(1, (v+5)/10)) * (hmPalette.length-1); const i0 = Math.floor(t), i1 = Math.min(hmPalette.length-1, i0+1);
   stops.push({offset:k/20, color: echarts.color.lerp(t - i0, [hmPalette[i0], hmPalette[i1]])}); }
 graphics.push({type:'rect', silent:true, z:40, shape:{x:cbX, y:cbY, width:12, height:cbH},
   style:{fill:new echarts.graphic.LinearGradient(0,0,0,1,stops)}});
 hmLegendTicks.forEach(v=>{ const y = cbY + (hmLegendRange[0] - v)*pxPerUnit; T(String(v), cbX+17, y, {size:12.5, align:'left'}); });
}

// ---- Panel F ----
T('F', 636, 1634, {weight:'bold', size:25, align:'left'});
T('KEGG Pathway Enrichment', 975, 1642, {weight:'bold', size:14, family:NARROW});
const nesColors = ['#d8ec9c','#9fd09a','#5da59e','#3a76a6','#2b4f93'];
function keggSize(p){ return 2 + (p-1)*5.5; }
{
 const g = addGrid({left:845, top:1661, width:260, height:474, show:true, borderColor:'#8a8a8a', borderWidth:1.2});
 const xi = addX({gridIndex:g, type:'value', min:0.4, max:8.6, axisLine:{show:false},
   axisTick:{show:true, length:3, lineStyle:{color:'#555'}, customValues:[1,2,3,4,5,6,7,8]},
   axisLabel:{customValues:[1,2,3,4,5,6,7,8], rotate:90, color:'#000', fontFamily:NARROW, fontWeight:'bold', fontSize:13, margin:6, formatter:v=>factorNames[v-1]},
   splitLine:{show:false}});
 const yi = addY({gridIndex:g, type:'value', min:0.4, max:4.6, inverse:true, axisLine:{show:false},
   axisTick:{show:true, length:3, lineStyle:{color:'#555'}, customValues:[1,2,3,4]},
   axisLabel:{customValues:[1,2,3,4], color:'#000', fontFamily:NARROW, fontWeight:'bold', fontSize:14, margin:8, lineHeight:22, align:'right', formatter:v=>keggPathways[v-1]},
   splitLine:{show:false}});
 series.push({type:'scatter', xAxisIndex:xi, yAxisIndex:yi, silent:true, data:keggPoints, symbolSize:v=>keggSize(v[2])});
 visualMaps.push({show:false, type:'continuous', seriesIndex:series.length-1, dimension:3, min:-1.2, max:1.6, inRange:{color:nesColors}});
 T('-log10(P-value)', 1110, 1766, {size:11, align:'left', family:GP});
 keggSizeLegend.forEach((p,i)=>{ const y = 1790 + i*15.5; const d = keggSize(p);
   graphics.push({type:'circle', silent:true, z:40, shape:{cx:1124, cy:y, r:d/2}, style:{fill:'#000'}});
   T(p.toFixed(1), 1140, y, {size:11, align:'left'}); });
 T('NES', 1110, 1915, {size:11, align:'left'});
 const nbY = 1929, nbH = 98;
 graphics.push({type:'rect', silent:true, z:40, shape:{x:1110, y:nbY, width:14, height:nbH},
   style:{fill:new echarts.graphic.LinearGradient(0,0,0,1, nesColors.slice().reverse().map((c,i)=>({offset:i/(nesColors.length-1), color:c})))}});
 keggNesTicks.forEach(v=>{ const y = nbY + (1.6 - v)/2.8*nbH; T(v.toFixed(1), 1129, y, {size:11, align:'left'}); });
}

const chart = echarts.init(document.getElementById('c'), null, {renderer:'canvas', width:1186, height:2208});
chart.setOption({animation:false, backgroundColor:'#fff', grid:grids, xAxis:xAxes, yAxis:yAxes, series:series, visualMap:visualMaps, graphic:{elements:graphics}});
</script></body></html>
